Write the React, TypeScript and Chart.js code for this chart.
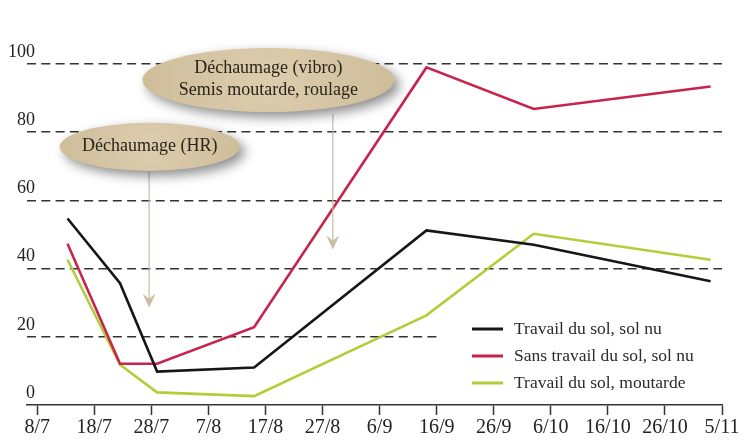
import React, { useEffect, useRef } from "react";
import { Chart, registerables } from "chart.js";

Chart.register(...registerables);

// jours écoulés depuis le 8/7
const dayOffsets = [5.3, 14.5, 21, 38, 68.2, 87, 118];
const travailSolNu = [54.7, 35.7, 9.8, 11, 51.2, 47, 36.3];
const sansTravailSolNu = [47.3, 12.1, 12.1, 22.8, 99, 86.8, 93.4];
const travailMoutarde = [42.6, 11.8, 3.7, 2.6, 26.3, 50.2, 42.6];

const seriesNames = [
  "Travail du sol, sol nu",
  "Sans travail du sol, sol nu",
  "Travail du sol, moutarde",
];
const seriesColors = ["#161616", "#c8234b", "#b3cd38"];

const tickDays = [0, 10, 20, 30, 40, 50, 60, 70, 80, 90, 100, 110, 120];
const tickLabels = ["8/7", "18/7", "28/7", "7/8", "17/8", "27/8", "6/9", "16/9", "26/9", "6/10", "16/10", "26/10", "5/11"];
const yTicks = [0, 20, 40, 60, 80, 100];

// bulles d'annotation (centre en jour / valeur)
const bubbleDays = [40.5, 19.7];
const bubbleValues = [95.3, 75.7];
const bubbleTexts = [["Déchaumage (vibro)", "Semis moutarde, roulage"], ["Déchaumage (HR)"]];
const arrowDays = [51.8, 19.6];
const arrowFrom = [85.3, 68.5];
const arrowTo = [45.6, 28.5];

const SERIF = "'Liberation Serif', 'DejaVu Serif', serif";
const DASH = [9, 5.3];

const overlayPlugin = {
  id: "overlay",
  beforeDatasetsDraw(chart: any) {
    // ligne pointillée à 20, raccourcie avant la légende
    const { ctx, scales } = chart;
    const x0 = chart.chartArea.left;
    const x1 = scales.x.getPixelForValue(70.5);
    const y = scales.y.getPixelForValue(20);
    ctx.save();
    ctx.strokeStyle = "#333";
    ctx.lineWidth = 1.6;
    ctx.setLineDash(DASH);
    ctx.beginPath();
    ctx.moveTo(x0, y);
    ctx.lineTo(x1, y);
    ctx.stroke();
    ctx.restore();
  },
  afterDatasetsDraw(chart: any) {
    const { ctx, scales, chartArea } = chart;
    const sx = scales.x;
    const sy = scales.y;

    // flèches
    arrowDays.forEach((d, i) => {
      const x = sx.getPixelForValue(d);
      const yA = sy.getPixelForValue(arrowFrom[i]);
      const yB = sy.getPixelForValue(arrowTo[i]);
      ctx.save();
      ctx.strokeStyle = "#c9baa6";
      ctx.lineWidth = 1.2;
      ctx.beginPath();
      ctx.moveTo(x, yA);
      ctx.lineTo(x, yB - 8);
      ctx.stroke();
      ctx.fillStyle = "#cdbda6";
      ctx.beginPath();
      ctx.moveTo(x, yB);
      ctx.lineTo(x - 6.5, yB - 14);
      ctx.lineTo(x, yB - 9);
      ctx.lineTo(x + 6.5, yB - 14);
      ctx.closePath();
      ctx.fill();
      ctx.restore();
    });

    // bulles
    const radii = [
      [126, 32],
      [90, 24],
    ];
    bubbleDays.forEach((d, i) => {
      const cx = sx.getPixelForValue(d);
      const cy = sy.getPixelForValue(bubbleValues[i]);
      const [rx, ry] = radii[i];
      ctx.save();
      ctx.shadowColor = "rgba(0,0,0,0.45)";
      ctx.shadowBlur = 12;
      ctx.shadowOffsetX = 5;
      ctx.shadowOffsetY = 5;
      const g = ctx.createRadialGradient(cx, cy, 0, cx, cy, rx);
      g.addColorStop(0, "#dccdae");
      g.addColorStop(1, "#cfbd9a");
      ctx.fillStyle = g;
      ctx.beginPath();
      ctx.ellipse(cx, cy, rx, ry, 0, 0, Math.PI * 2);
      ctx.fill();
      ctx.restore();

      ctx.save();
      ctx.fillStyle = "#2a2419";
      ctx.font = `18px ${SERIF}`;
      ctx.textAlign = "center";
      ctx.textBaseline = "middle";
      const lines = bubbleTexts[i];
      const lh = 22;
      lines.forEach((t, k) => {
        ctx.fillText(t, cx, cy + (k - (lines.length - 1) / 2) * lh - 1);
      });
      ctx.restore();
    });

    // légende
    const lx = chartArea.right - 250;
    const rows = [chartArea.bottom - 76, chartArea.bottom - 49, chartArea.bottom - 22];
    ctx.save();
    ctx.font = `17.5px ${SERIF}`;
    ctx.textBaseline = "middle";
    ctx.textAlign = "left";
    seriesNames.forEach((name, i) => {
      ctx.strokeStyle = seriesColors[i];
      ctx.lineWidth = 3;
      ctx.beginPath();
      ctx.moveTo(lx, rows[i]);
      ctx.lineTo(lx + 31, rows[i]);
      ctx.stroke();
      ctx.fillStyle = "#2b2b2b";
      ctx.fillText(name, lx + 42, rows[i]);
    });
    ctx.restore();
  },
};

const App = () => {
  const canvasRef = useRef<HTMLCanvasElement>(null);

  useEffect(() => {
    if (!canvasRef.current) return;
    const toPoints = (vals: number[]) => vals.map((v, i) => ({ x: dayOffsets[i], y: v }));
    const chart = new Chart(canvasRef.current, {
      type: "line",
      data: {
        datasets: [travailSolNu, sansTravailSolNu, travailMoutarde].map((vals, i) => ({
          label: seriesNames[i],
          data: toPoints(vals),
          borderColor: seriesColors[i],
          backgroundColor: seriesColors[i],
          borderWidth: 2.6,
          pointRadius: 0,
          tension: 0,
        })),
      },
      options: {
        animation: false,
        responsive: true,
        maintainAspectRatio: false,
        layout: { padding: { top: 64, right: 25, left: 0, bottom: 0 } },
        plugins: { legend: { display: false }, tooltip: { enabled: false } },
        scales: {
          x: {
            type: "linear",
            min: -1.8,
            max: 120,
            afterBuildTicks: (scale: any) => {
              scale.ticks = tickDays.map((v) => ({ value: v }));
            },
            afterFit: (scale: any) => {
              scale.height = 38;
            },
            ticks: {
              autoSkip: false,
              maxRotation: 0,
              padding: 1,
              color: "#222",
              font: { family: SERIF, size: 20 },
              callback: (_v: any, i: number) => tickLabels[i],
            },
            grid: { drawOnChartArea: false, drawTicks: true, tickLength: 10, tickColor: "#333", tickWidth: 1.5 },
            border: { display: true, color: "#333", width: 1.6 },
          },
          y: {
            min: 0,
            max: 100,
            afterBuildTicks: (scale: any) => {
              scale.ticks = yTicks.map((v) => ({ value: v }));
            },
            afterFit: (scale: any) => {
              scale.width = 27;
            },
            ticks: {
              mirror: true,
              crossAlign: "far",
              padding: -19,
              labelOffset: -12,
              color: "#222",
              font: { family: SERIF, size: 18 },
            },
            grid: {
              drawTicks: false,
              lineWidth: 1.6,
              color: (c: any) => (c.tick && (c.tick.value === 0 || c.tick.value === 20) ? "transparent" : "#333"),
            },
            border: { display: false, dash: DASH },
          },
        },
      },
      plugins: [overlayPlugin],
    });

    return () => {
      chart.destroy();
    };
  }, []);

  return (
    <div style={{ position: "fixed", left: 0, top: 0, width: 747, height: 443, background: "#fff" }}>
      <canvas ref={canvasRef} />
    </div>
  );
};

export default App;
